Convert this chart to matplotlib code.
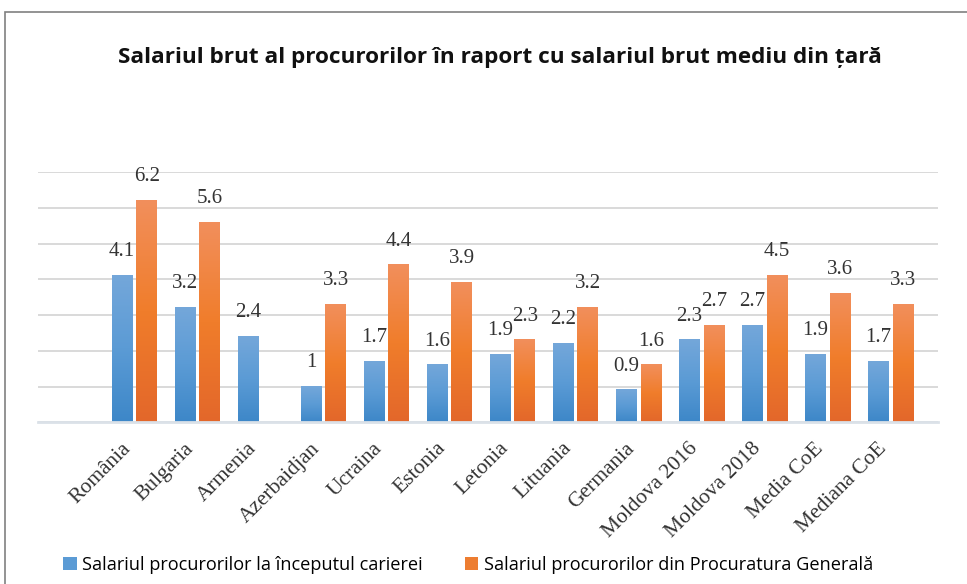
import numpy as np
import matplotlib.pyplot as plt
from matplotlib.colors import LinearSegmentedColormap
from matplotlib.patches import Patch, Rectangle

categories = ['România', 'Bulgaria', 'Armenia', 'Azerbaidjan', 'Ucraina', 'Estonia',
              'Letonia', 'Lituania', 'Germania', 'Moldova 2016', 'Moldova 2018',
              'Media CoE', 'Mediana CoE']
# bar heights as drawn in the picture
start_career = [4.1, 3.2, 2.4, 1.0, 1.7, 1.6, 1.9, 2.2, 0.9, 2.3, 2.7, 1.9, 1.7]
general_office = [6.2, 5.6, np.nan, 3.3, 4.4, 3.9, 2.3, 3.2, 1.6, 2.7, 4.1, 3.6, 3.3]
# value labels as printed (Moldova 2018 is labelled 4.5)
start_labels = ['4.1', '3.2', '2.4', '1', '1.7', '1.6', '1.9', '2.2', '0.9', '2.3', '2.7', '1.9', '1.7']
general_labels = ['6.2', '5.6', '', '3.3', '4.4', '3.9', '2.3', '3.2', '1.6', '2.7', '4.5', '3.6', '3.3']
series_names = ['Salariul procurorilor la începutul carierei',
                'Salariul procurorilor din Procuratura Generală']

title = 'Salariul brut al procurorilor în raport cu salariul brut mediu din țară'

blue_cmap = LinearSegmentedColormap.from_list('b', ['#3d87c8', '#5b9bd5', '#74a7da'])
orange_cmap = LinearSegmentedColormap.from_list('o', ['#e3672a', '#f07d2b', '#f28f5c'])

W, H = 967, 584
fig = plt.figure(figsize=(W / 100, H / 100), dpi=100)
ax = fig.add_axes([38 / W, (H - 422.3) / H, 900 / W, 250 / H])

x = np.arange(len(categories))
bw = 0.33
off = 0.195


def gradient_bars(bars, cmap):
    grad = np.linspace(1, 0, 256).reshape(-1, 1)
    for b in bars:
        h = b.get_height()
        b.set_visible(False)
        if not np.isfinite(h) or h <= 0:
            continue
        x0 = b.get_x()
        ax.imshow(grad, extent=(x0, x0 + b.get_width(), 0, h), origin='upper',
                  cmap=cmap, vmin=0, vmax=1, aspect='auto', zorder=2)


b1 = ax.bar(x - off, start_career, bw)
b2 = ax.bar(x + off, general_office, bw)
gradient_bars(b1, blue_cmap)
gradient_bars(b2, orange_cmap)

serif = 'Liberation Serif'
for xi, v, t in zip(x - off, start_career, start_labels):
    ax.annotate(t, (xi, v), xytext=(0, 10.5), textcoords='offset points',
                ha='center', va='bottom', fontsize=15, family=serif, color='#333333')
for xi, v, t in zip(x + off, general_office, general_labels):
    if t:
        ax.annotate(t, (xi, v), xytext=(0, 10.5), textcoords='offset points',
                    ha='center', va='bottom', fontsize=15, family=serif, color='#333333')

ax.set_xlim(-1.53, 12.75)
ax.set_ylim(0, 7)
ax.set_yticks(np.arange(0, 8))
ax.set_yticklabels([])
ax.tick_params(axis='y', length=0)
ax.grid(axis='y', color='#cfcfcf', lw=1.1)
ax.set_axisbelow(True)
for s in ['top', 'right', 'left']:
    ax.spines[s].set_visible(False)
ax.spines['bottom'].set_color('#dbe1e8')
ax.spines['bottom'].set_linewidth(2)

ax.set_xticks(x)
ax.set_xticklabels(categories, rotation=45, ha='right', va='top',
                   fontsize=15.5, family=serif, color='#333333')
ax.tick_params(axis='x', length=0, pad=12)

fig.text(0.517, (H - 58) / H, title, ha='center', va='center',
         fontsize=16.2, fontweight='bold', family='Open Sans', color='#111111')

handles = [Patch(facecolor='#5b9bd5'), Patch(facecolor='#ed7d31')]
fig.legend(handles, series_names, loc='center left', bbox_to_anchor=(63 / W, 19 / H),
           ncol=2, frameon=False, handlelength=0.75, handleheight=0.75,
           handletextpad=0.3, columnspacing=2.3, borderaxespad=0, borderpad=0,
           prop={'family': 'Open Sans', 'size': 13.1})

fig.add_artist(Rectangle((5 / W, -0.1), 2, (H - 12) / H + 0.1, transform=fig.transFigure,
                         fill=False, edgecolor='#808080', lw=1.2))

fig.savefig('out.png', dpi=100)
